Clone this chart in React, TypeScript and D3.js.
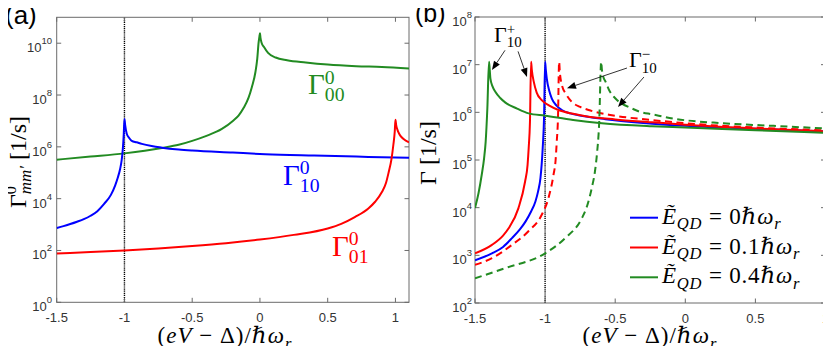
import React, { useEffect, useRef } from "react";
import * as d3 from "d3";

const WIDTH = 831;
const HEIGHT = 354;

// ---- panel (a): Gamma^0_{mm'} [1/s] vs (eV - Delta)/hbar w_r ----
const gamma00: [number, number][] = [
  [-1.5, 3.2e5], [-1.25, 4.2e5], [-1.0, 5.6e5], [-0.85, 7.1e5], [-0.724, 9.1e5],
  [-0.6, 1.2e6], [-0.5, 1.7e6], [-0.4, 2.6e6], [-0.281, 4.9e6], [-0.2, 1.0e7],
  [-0.158, 1.6e7], [-0.12, 3.2e7], [-0.084, 7.9e7], [-0.06, 2.0e8], [-0.034, 7.4e8],
  [-0.02, 2.5e9], [-0.01, 1.05e10], [-0.004, 1.8e10], [0, 2.4e10], [0.004, 1.6e10],
  [0.012, 1.05e10], [0.03, 7.1e9], [0.06, 4.2e9], [0.116, 2.8e9], [0.2, 2.2e9],
  [0.338, 1.8e9], [0.5, 1.5e9], [0.71, 1.3e9], [0.9, 1.2e9], [1.1, 1.05e9],
];
const gamma10: [number, number][] = [
  [-1.5, 740], [-1.45, 870], [-1.4, 1050], [-1.35, 1290], [-1.3, 1620],
  [-1.25, 2190], [-1.2, 3300], [-1.15, 6300], [-1.1, 1.4e4], [-1.069, 3.2e4],
  [-1.05, 6.3e4], [-1.032, 1.4e5], [-1.02, 3.2e5], [-1.012, 8.3e5], [-1.005, 3.2e6],
  [-1.0, 1.2e7], [-0.995, 7.1e6], [-0.983, 3.2e6], [-0.965, 2.2e6], [-0.946, 1.7e6],
  [-0.91, 1.5e6], [-0.872, 1.3e6], [-0.8, 1.07e6], [-0.724, 9.3e5], [-0.6, 7.9e5],
  [-0.5, 7.2e5], [-0.2, 6.0e5], [0.04, 5.2e5], [0.4, 4.6e5], [0.8, 4.1e5], [1.1, 3.8e5],
];
const gamma01: [number, number][] = [
  [-1.5, 76], [-1.25, 87], [-1.0, 100], [-0.75, 120], [-0.5, 148], [-0.25, 190],
  [0, 263], [0.25, 400], [0.5, 710], [0.6, 1070], [0.7, 1950], [0.8, 4200],
  [0.85, 7600], [0.9, 1.8e4], [0.93, 4.0e4], [0.95, 1.05e5], [0.97, 3.2e5],
  [0.985, 1.26e6], [0.995, 4.0e6], [1.0, 1.1e7], [1.005, 7.1e6], [1.015, 4.5e6],
  [1.03, 3.0e6], [1.06, 2.0e6], [1.1, 1.5e6],
];

// ---- panel (b): Gamma_10^+ (solid) and Gamma_10^- (dashed) for E_QD = 0, 0.1, 0.4 ----
const plusE0: [number, number][] = [
  [-1.5, 790], [-1.379, 1100], [-1.3, 1500], [-1.236, 2300], [-1.18, 3500],
  [-1.14, 5100], [-1.1, 8300], [-1.069, 1.35e4], [-1.05, 2.2e4], [-1.033, 4.2e4],
  [-1.017, 1.8e5], [-1.007, 8.7e5], [-1.0, 1.15e7], [-0.995, 7.9e6], [-0.988, 5.1e6],
  [-0.97, 2.8e6], [-0.952, 1.95e6], [-0.92, 1.4e6], [-0.881, 1.12e6], [-0.82, 9.5e5],
  [-0.762, 8.7e5], [-0.571, 7.2e5], [-0.3, 6.0e5], [0, 5.2e5], [0.5, 4.5e5], [1, 4.0e5],
];
const plusE01: [number, number][] = [
  [-1.5, 1100], [-1.379, 1660], [-1.3, 2600], [-1.26, 3700], [-1.19, 9800],
  [-1.143, 3.5e4], [-1.125, 7.9e4], [-1.117, 1.8e5], [-1.108, 6.3e5], [-1.1, 1.15e7],
  [-1.095, 7.9e6], [-1.081, 4.4e6], [-1.06, 2.6e6], [-1.024, 1.8e6], [-0.97, 1.38e6],
  [-0.905, 1.12e6], [-0.8, 9.3e5], [-0.69, 8.1e5], [-0.5, 7.1e5], [-0.238, 6.2e5],
  [0, 5.5e5], [0.5, 4.6e5], [1, 4.0e5],
];
const minusE01: [number, number][] = [
  [-1.5, 630], [-1.379, 870], [-1.236, 1660], [-1.119, 3200], [-1.024, 7100],
  [-0.976, 1.6e4], [-0.94, 4.9e4], [-0.925, 1.0e5], [-0.917, 2.4e5], [-0.908, 7.9e5],
  [-0.9, 1.15e7], [-0.895, 7.1e6], [-0.88, 3.7e6], [-0.85, 2.4e6], [-0.81, 1.66e6],
  [-0.75, 1.3e6], [-0.69, 1.12e6], [-0.524, 8.7e5], [-0.238, 6.9e5], [0, 5.9e5],
  [0.5, 4.8e5], [1, 4.2e5],
];
const plusE04: [number, number][] = [
  [-1.5, 9800], [-1.475, 2.0e4], [-1.452, 4.9e4], [-1.435, 1.1e5], [-1.424, 2.4e5],
  [-1.412, 1.2e6], [-1.4, 1.15e7], [-1.395, 7.9e6], [-1.39, 5.1e6], [-1.375, 3.5e6],
  [-1.355, 2.7e6], [-1.32, 2.0e6], [-1.283, 1.6e6], [-1.2, 1.2e6], [-1.117, 9.5e5],
  [-1.0, 8.5e5], [-0.8, 6.9e5], [-0.595, 5.9e5], [-0.238, 5.1e5], [0, 4.8e5],
  [0.5, 4.2e5], [1, 3.7e5],
];
const minusE04: [number, number][] = [
  [-1.5, 330], [-1.283, 540], [-1.0, 1100], [-0.857, 2300], [-0.738, 6000],
  [-0.7, 1.1e4], [-0.667, 2.6e4], [-0.645, 5.6e4], [-0.631, 1.26e5], [-0.614, 6.3e5],
  [-0.6, 1.15e7], [-0.595, 7.9e6], [-0.585, 5.6e6], [-0.569, 4.4e6], [-0.54, 2.8e6],
  [-0.498, 1.95e6], [-0.379, 1.2e6], [-0.321, 1.02e6], [-0.238, 9.1e5], [-0.086, 7.4e5],
  [0.271, 5.9e5], [0.629, 5.2e5], [1, 4.6e5],
];

const xTicks = [-1.5, -1, -0.5, 0, 0.5, 1];
const yExpA = [0, 2, 4, 6, 8, 10];
const yExpB = [2, 3, 4, 5, 6, 7, 8];
const legendValues = ["0", "0.1", "0.4"];

// annotation arrows in (b), data coords: [x0, y0, x1, y1]
const plusArrows = [[-1.286, 2.0e7, -1.379, 7.7e6], [-1.193, 1.9e7, -1.129, 5.5e6]];
const minusArrows = [[-0.416, 8.5e6, -0.844, 3.2e6], [-0.295, 5.5e6, -0.48, 1.3e6]];

const GREEN = "#228b22";
const BLUE = "#0000ff";
const RED = "#ff0000";
const MATH = "'Liberation Serif', 'DejaVu Serif', serif";
const SANS = "'Liberation Sans', Arial, sans-serif";
const AXIS = "#6b6b6b";
const TICKTXT = "#333";

type Part = { t: string; it?: boolean; sub?: boolean; sup?: boolean };

// rough LaTeX-like text with sub/superscripts as tspans
function mathText(sel: any, x: number, y: number, parts: Part[], size: number, fill = "#000", anchor = "start", spacing = 0) {
  const txt = sel.append("text")
    .attr("x", x).attr("y", y)
    .attr("font-family", MATH)
    .attr("font-size", size)
    .attr("fill", fill)
    .attr("letter-spacing", spacing)
    .attr("text-anchor", anchor);
  let shift = 0;
  parts.forEach((p) => {
    const target = p.sub ? size * 0.25 : p.sup ? -size * 0.4 : 0;
    txt.append("tspan")
      .attr("dy", target - shift)
      .attr("font-size", p.sub || p.sup ? size * 0.72 : size)
      .attr("font-style", p.it ? "italic" : "normal")
      .text(p.t);
    shift = target;
  });
  return txt;
}

// Gamma with stacked super/subscript
function gammaLabel(sel: any, x: number, y: number, sup: string, sub: string, size: number, fill: string) {
  sel.append("text").attr("x", x).attr("y", y).attr("font-family", MATH)
    .attr("font-size", size).attr("fill", fill).text("Γ");
  const dx = size * 0.58;
  sel.append("text").attr("x", x + dx).attr("y", y - size * 0.36).attr("font-family", MATH)
    .attr("font-size", size * 0.68).attr("fill", fill).text(sup);
  sel.append("text").attr("x", x + dx).attr("y", y + size * 0.25).attr("font-family", MATH)
    .attr("font-size", size * 0.68).attr("fill", fill).text(sub);
}

const xLabel: Part[] = [
  { t: "(" }, { t: "eV", it: true }, { t: " − Δ)/" }, { t: "ℏω", it: true }, { t: "r", it: true, sub: true },
];

function drawFrame(g: any, x: any, y: any, yExps: number[], tickRight: number) {
  const [x0, x1] = x.range();
  const [y0, y1] = y.range();
  const tl = 4.5;

  // dotted line at -1
  g.append("line")
    .attr("x1", x(-1)).attr("x2", x(-1)).attr("y1", y0).attr("y2", y1)
    .attr("stroke", "#000").attr("stroke-width", 1.4).attr("stroke-dasharray", "1.2,0.9");

  // ticks inside, all four sides
  xTicks.forEach((t) => {
    if (x(t) > x1 + 0.5) return;
    g.append("line").attr("x1", x(t)).attr("x2", x(t)).attr("y1", y0).attr("y2", y0 - tl).attr("stroke", AXIS);
    g.append("line").attr("x1", x(t)).attr("x2", x(t)).attr("y1", y1).attr("y2", y1 + tl).attr("stroke", AXIS);
    g.append("text").attr("x", x(t)).attr("y", y0 + 20)
      .attr("text-anchor", "middle").attr("font-family", SANS).attr("font-size", 13)
      .attr("fill", TICKTXT).text(String(t));
  });
  yExps.forEach((e) => {
    const py = y(Math.pow(10, e));
    g.append("line").attr("x1", x0).attr("x2", x0 + tl).attr("y1", py).attr("y2", py).attr("stroke", AXIS);
    g.append("line").attr("x1", x1).attr("x2", x1 - tl).attr("y1", py).attr("y2", py).attr("stroke", AXIS);
    const t = g.append("text").attr("x", tickRight).attr("y", py + 9)
      .attr("text-anchor", "end").attr("font-family", SANS).attr("font-size", 13).attr("fill", TICKTXT);
    t.append("tspan").text("10");
    t.append("tspan").attr("dy", -8).attr("font-size", 9.5).text(String(e));
  });

  g.append("rect")
    .attr("x", x0).attr("y", y1).attr("width", x1 - x0).attr("height", y0 - y1)
    .attr("fill", "none").attr("stroke", AXIS).attr("stroke-width", 1);
}

function drawCurve(g: any, x: any, y: any, data: [number, number][], color: string, dash?: string) {
  const line = d3.line<[number, number]>()
    .x((d) => x(d[0]))
    .y((d) => y(d[1]))
    .curve(d3.curveMonotoneX);
  g.append("path")
    .datum(data)
    .attr("d", line)
    .attr("fill", "none")
    .attr("stroke", color)
    .attr("stroke-width", 2)
    .attr("stroke-dasharray", dash || null);
}

function arrow(g: any, x: any, y: any, a: number[]) {
  const [sx, sy, ex, ey] = [x(a[0]), y(a[1]), x(a[2]), y(a[3])];
  const ang = Math.atan2(ey - sy, ex - sx);
  const len = 9, half = 3.5;
  const bx = ex - len * Math.cos(ang), by = ey - len * Math.sin(ang);
  g.append("line").attr("x1", sx).attr("y1", sy).attr("x2", bx).attr("y2", by)
    .attr("stroke", "#000").attr("stroke-width", 0.8);
  const p1 = [bx + half * Math.sin(ang), by - half * Math.cos(ang)];
  const p2 = [bx - half * Math.sin(ang), by + half * Math.cos(ang)];
  g.append("path")
    .attr("d", `M${ex},${ey}L${p1[0]},${p1[1]}L${p2[0]},${p2[1]}Z`)
    .attr("fill", "#000");
}

const RateCurves = () => {
  const svgRef = useRef<SVGSVGElement | null>(null);

  useEffect(() => {
    const svg = d3.select(svgRef.current);
    svg.selectAll("*").remove();

    // ---------- panel (a) ----------
    const xa = d3.scaleLinear().domain([-1.5, 1.1]).range([56.7, 409]);
    const ya = d3.scaleLog().domain([1, 1e11]).range([302.3, 17.3]);
    const ga = svg.append("g");
    ga.append("clipPath").attr("id", "clipA").append("rect")
      .attr("x", 56.7).attr("y", 17.3).attr("width", 409 - 56.7).attr("height", 302.3 - 17.3);
    drawFrame(ga, xa, ya, yExpA, 52);
    const ca = ga.append("g").attr("clip-path", "url(#clipA)");
    drawCurve(ca, xa, ya, gamma00, GREEN);
    drawCurve(ca, xa, ya, gamma10, BLUE);
    drawCurve(ca, xa, ya, gamma01, RED);

    gammaLabel(ga, xa(0.355), ya(1.1e8), "0", "00", 29, GREEN);
    gammaLabel(ga, xa(0.17), ya(3.5e4), "0", "10", 29, BLUE);
    gammaLabel(ga, xa(0.532), ya(62), "0", "01", 29, RED);

    mathText(ga, 225, 343, xLabel, 23, "#000", "middle", 1);

    // y label (a), rotated, stacked sup/sub
    const yla = ga.append("text")
      .attr("transform", "translate(26,162) rotate(-90)")
      .attr("text-anchor", "middle")
      .attr("font-family", MATH)
      .attr("font-size", 24);
    yla.append("tspan").text("Γ");
    yla.append("tspan").attr("dy", -10).attr("font-size", 16).text("0");
    yla.append("tspan").attr("dx", -8).attr("dy", 15).attr("font-size", 17)
      .attr("font-style", "italic").text("mm′");
    yla.append("tspan").attr("dy", -5).text(" [1/s]");

    ga.append("text").attr("x", 5).attr("y", 24).attr("font-family", SANS).attr("font-size", 26).text("(a)");

    // ---------- panel (b) ----------
    const xb = d3.scaleLinear().domain([-1.5, 1]).range([475, 825.5]);
    const yb = d3.scaleLog().domain([1e2, 1e8]).range([303, 17]);
    const gb = svg.append("g");
    gb.append("clipPath").attr("id", "clipB").append("rect")
      .attr("x", 475).attr("y", 17).attr("width", 825.5 - 475).attr("height", 303 - 17);
    drawFrame(gb, xb, yb, yExpB, 472);
    const cb = gb.append("g").attr("clip-path", "url(#clipB)");
    const dash = "7,4.5";
    drawCurve(cb, xb, yb, plusE0, BLUE);
    drawCurve(cb, xb, yb, plusE01, RED);
    drawCurve(cb, xb, yb, minusE01, RED, dash);
    drawCurve(cb, xb, yb, plusE04, GREEN);
    drawCurve(cb, xb, yb, minusE04, GREEN, dash);

    // annotations
    gammaLabel(gb, xb(-1.364), yb(3.0e7), "+", "10", 22, "#000");
    gammaLabel(gb, xb(-0.402), yb(8.9e6), "−", "10", 22, "#000");
    plusArrows.forEach((a) => arrow(gb, xb, yb, a));
    minusArrows.forEach((a) => arrow(gb, xb, yb, a));

    // legend
    const colors = [BLUE, RED, GREEN];
    legendValues.forEach((v, i) => {
      const ly = 217.7 + i * 29.8;
      gb.append("line").attr("x1", 630).attr("x2", 658).attr("y1", ly).attr("y2", ly)
        .attr("stroke", colors[i]).attr("stroke-width", 2);
      mathText(gb, 662, ly + 6, [
        { t: "Ẽ", it: true }, { t: "QD", it: true, sub: true }, { t: " = " + v }, { t: "ℏω", it: true }, { t: "r", it: true, sub: true },
      ], 23, "#000", "start", 0.8);
    });

    mathText(gb, 650, 343, xLabel, 23, "#000", "middle", 1);

    gb.append("text")
      .attr("transform", "translate(436,153) rotate(-90)")
      .attr("text-anchor", "middle")
      .attr("font-family", MATH)
      .attr("font-size", 24)
      .text("Γ [1/s]");

    gb.append("text").attr("x", 415).attr("y", 22).attr("font-family", SANS).attr("font-size", 25).text("(b)");
  }, []);

  return (
    <svg
      ref={svgRef}
      width={WIDTH}
      height={HEIGHT}
      style={{ display: "block", backgroundColor: "#fff" }}
    ></svg>
  );
};

export default function App() {
  return (
    <div style={{ margin: -8 }}>
      <RateCurves />
    </div>
  );
}
